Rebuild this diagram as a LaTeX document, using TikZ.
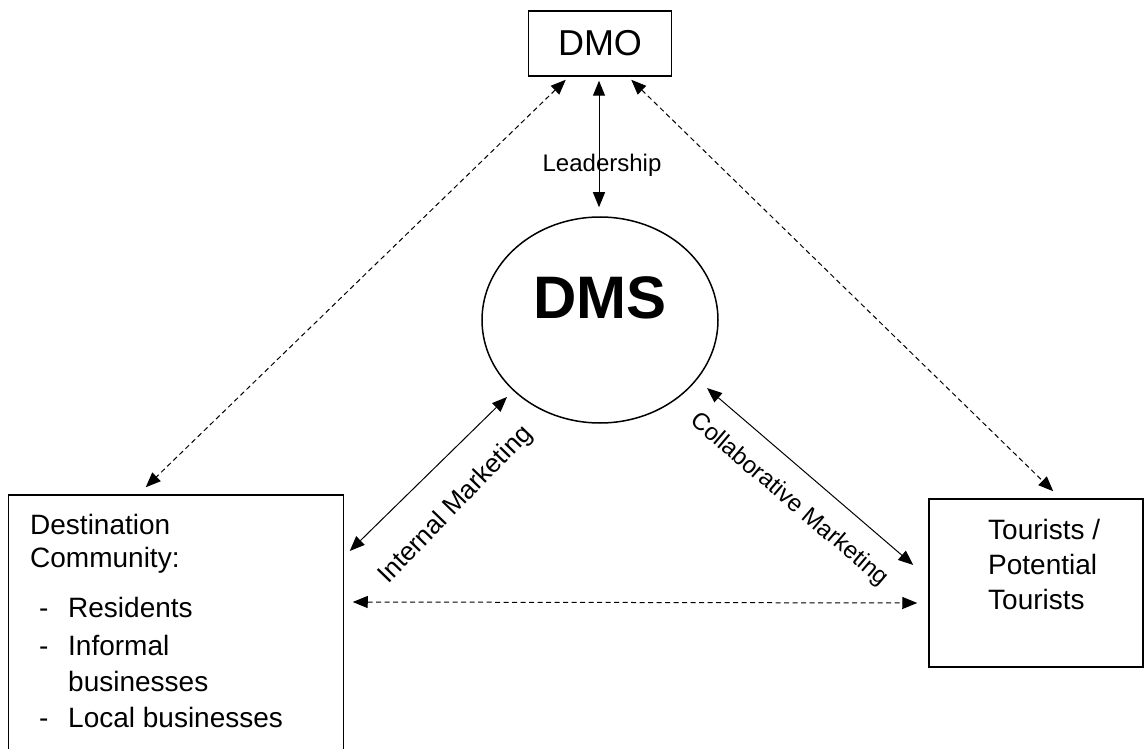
\documentclass[tikz,border=0pt]{standalone}
\usepackage{fontspec}
\setmainfont{Liberation Sans}
\usetikzlibrary{arrows.meta,shapes.geometric,calc}

\tikzset{
  box/.style={draw, line width=1.5pt, rectangle, inner sep=0pt},
  link/.style={line width=1pt, {Triangle[length=15pt,width=12pt]}-{Triangle[length=15pt,width=12pt]}},
  dlink/.style={link, dash pattern=on 5pt off 3.5pt},
  lbl/.style={font=\fontsize{24}{28}\selectfont, inner sep=0pt},
  body/.style={font=\fontsize{28}{32}\selectfont, inner sep=0pt, anchor=base west},
}

\begin{document}
\begin{tikzpicture}[x=1pt,y=-1pt]
\useasboundingbox (0,0) rectangle (1144,749);

% the four parties
\node[box, minimum width=143pt, minimum height=65pt] (dmo) at (600,43.5)
  {\fontsize{36}{40}\selectfont DMO};
\node[draw, line width=1.5pt, ellipse, minimum width=236pt, minimum height=206pt, inner sep=0pt] (dms) at (600,320) {};
\node[font=\fontsize{60}{64}\selectfont\bfseries, inner sep=0pt] (dmstxt) at (600,298) {DMS};
\node[box, minimum width=335pt, minimum height=280pt] (comm) at (176,635) {};
\node[box, minimum width=214pt, minimum height=168pt] (tour) at (1036,583) {};

% community text
\node[body] (c1) at (30,534) {Destination};
\node[body] (c2) at (30,567) {Community:};
\node[body] (d1) at (39,617) {-};
\node[body] (r1) at (68,617) {Residents};
\node[body] (d2) at (39,655) {-};
\node[body] (r2) at (68,655) {Informal};
\node[body] (r3) at (68,691) {businesses};
\node[body] (d3) at (39,727) {-};
\node[body] (r4) at (68,727) {Local businesses};

% tourist text
\node[body] (t1) at (988,539) {Tourists /};
\node[body] (t2) at (988,574) {Potential};
\node[body] (t3) at (988,609) {Tourists};

% relations
\draw[link] ($(dmo.south)+(-1,4)$) -- ($(dms.north)+(-1,-9)$);
\node[lbl, anchor=base] (lead) at (602,172) {Leadership};

\draw[dlink] ($(dmo.south west)+(38,3)$) -- ($(comm.north west)+(138,-7)$);
\draw[dlink] ($(dmo.south east)+(-41,3)$) -- ($(tour.north west)+(125,-7)$);

\draw[link] ($(dms.center)+(-93,77)$) -- ($(comm.east)+(5.5,-84)$);
\node[lbl, font=\fontsize{26}{30}\selectfont, rotate=46] (intl) at (456,505) {Internal Marketing};

\draw[link] ($(dms.center)+(107,68)$) -- ($(tour.west)+(-15,-18)$);
\node[lbl, rotate=-40.5] (coll) at (789,500) {Collaborative Marketing};

\draw[dlink] ($(comm.east)+(8.5,-33)$) -- ($(tour.west)+(-11,20)$);
\end{tikzpicture}
\end{document}
